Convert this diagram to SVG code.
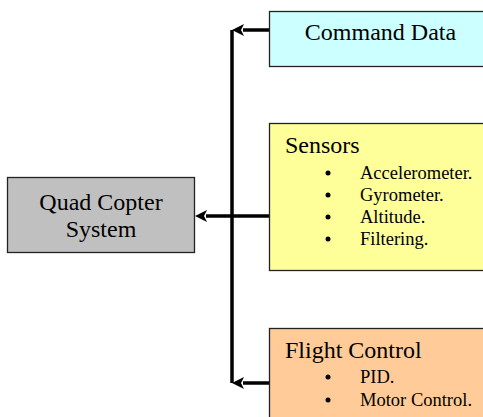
<svg xmlns="http://www.w3.org/2000/svg" width="483" height="417" viewBox="0 0 483 417">
<defs>
<style>
.box{stroke:#222;stroke-width:1.3}
.t{font-family:"Liberation Serif","Times New Roman",serif;fill:#000}
.big{font-size:24px}
.small{font-size:18.5px}
.conn{fill:none;stroke:#000;stroke-width:3.5}
</style>
</defs>
<rect width="483" height="417" fill="#fff"/>
<g id="connectors">
<path class="conn" d="M269,30 H243"/>
<path class="conn" d="M269,383 H243"/>
<path class="conn" d="M232,30 V383"/>
<path class="conn" d="M269,216 H206"/>
<path d="M244,24 L232,30 L244,36 L241,30 Z" fill="#000"/>
<path d="M244,377 L232,383 L244,389 L241,383 Z" fill="#000"/>
<path d="M207,210 L195,216 L207,222 L204,216 Z" fill="#000"/>
</g>
<g id="quad">
<rect class="box" x="7.5" y="177.5" width="187" height="75" fill="#C0C0C0"/>
<text class="t big" x="101" y="210" text-anchor="middle">Quad Copter</text>
<text class="t big" x="101" y="237" text-anchor="middle">System</text>
</g>
<g id="command">
<rect class="box" x="269.5" y="11.5" width="220" height="55" fill="#CCFFFF"/>
<text class="t big" x="380.5" y="40" text-anchor="middle">Command Data</text>
</g>
<g id="sensors">
<rect class="box" x="269.5" y="123.5" width="220" height="147" fill="#FFFF99"/>
<text class="t big" x="285" y="153">Sensors</text>
<g class="t small">
<circle cx="328" cy="173" r="2.5"/><text x="360" y="179">Accelerometer.</text>
<circle cx="328" cy="195" r="2.5"/><text x="360" y="201">Gyrometer.</text>
<circle cx="328" cy="217" r="2.5"/><text x="360" y="223">Altitude.</text>
<circle cx="328" cy="239" r="2.5"/><text x="360" y="245">Filtering.</text>
</g>
</g>
<g id="flight">
<rect class="box" x="269.5" y="328.5" width="220" height="100" fill="#FFCC99"/>
<text class="t big" x="285" y="358">Flight Control</text>
<g class="t small">
<circle cx="328" cy="377" r="2.5"/><text x="360" y="383">PID.</text>
<circle cx="328" cy="400" r="2.5"/><text x="360" y="406">Motor Control.</text>
</g>
</g>
</svg>
